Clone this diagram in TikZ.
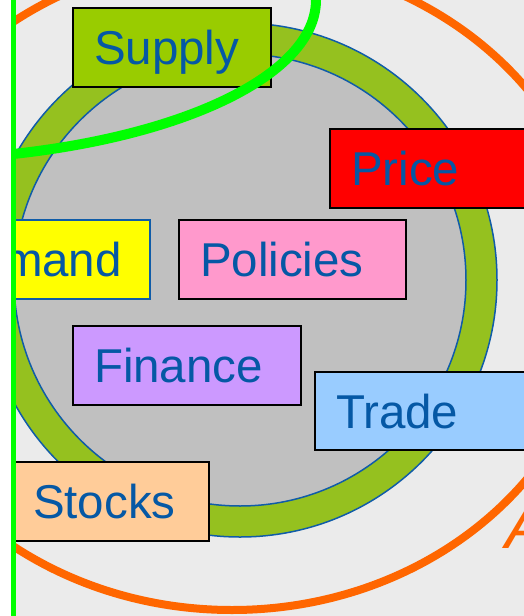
\documentclass[tikz,border=0pt]{standalone}
\usepackage{fontspec}
\setmainfont{Liberation Sans}

\definecolor{bggray}{RGB}{235,235,235}
\definecolor{ringolive}{RGB}{149,193,31}
\definecolor{ringblue}{RGB}{16,92,168}
\definecolor{innergray}{RGB}{192,192,192}
\definecolor{textblue}{RGB}{5,88,165}
\definecolor{arcorange}{RGB}{255,102,0}
\definecolor{brightgreen}{RGB}{0,255,0}
\definecolor{supplygreen}{RGB}{153,204,0}
\definecolor{pricered}{RGB}{255,0,0}
\definecolor{demandyellow}{RGB}{255,255,0}
\definecolor{policypink}{RGB}{255,153,204}
\definecolor{financelilac}{RGB}{204,153,255}
\definecolor{tradeblue}{RGB}{153,204,255}
\definecolor{stockpeach}{RGB}{255,204,153}

\begin{document}
\begin{tikzpicture}[x=1pt, y=1pt,
    labelbox/.style={draw=black, line width=1.8pt, anchor=north west,
        inner xsep=21pt, inner ysep=0pt, outer sep=0pt,
        minimum height=79pt, text height=34pt, text depth=0pt,
        align=left, text=textblue, font=\fontsize{47.5}{50}\selectfont},
    ringline/.style={draw=ringblue, line width=1.5pt},
    orangeline/.style={draw=arcorange, line width=8pt},
    greenline/.style={draw=brightgreen, line width=10pt}]

    % --- Frame ---
    \useasboundingbox (0,0) rectangle (524,-616);
    \clip (0,0) rectangle (524,-616);
    \fill[white] (0,0) rectangle (524,-616);

    % --- Define Coordinates ---
    % Centre of the ring
    \coordinate (O) at (240,-280);
    \def\Router{257}
    \def\Rinner{226}
    % Centre of the orange ellipse
    \coordinate (E) at (232,-284);
    % Centre of the green ellipse (outside the picture, top left)
    \coordinate (G) at (-100,0);
    % Top and foot of the green border line
    \coordinate (L1) at (13,0);
    \coordinate (L2) at (13,-616);

    \begin{scope}
        % everything right of the green line
        \clip (13,0) rectangle (524,-616);
        \fill[bggray] (13,0) rectangle (524,-616);

        % --- Orange ellipse ---
        \draw[orangeline] (E) ellipse [x radius=368, y radius=326];

        % --- Ring ---
        \filldraw[ringline, fill=ringolive] (O) circle (\Router);
        \filldraw[ringline, fill=innergray] (O) circle (\Rinner);

        % --- Boxes ---
        \node[labelbox, fill=supplygreen, text width=156pt] (supply) at (73,-8) {Supply};
        \node[labelbox, fill=pricered, text width=178pt] (price) at (330,-129) {Price};
        \node[labelbox, fill=demandyellow, draw=ringblue, line width=1.2pt,
            text width=126pt] (demand) at (-18,-220) {mand};
        \node[labelbox, fill=policypink, text width=185pt] (policies) at (179,-220) {Policies};
        \node[labelbox, fill=financelilac, text width=186pt] (finance) at (73,-326) {Finance};
        \node[labelbox, fill=tradeblue, text width=178pt, minimum height=78pt] (trade) at (315,-372) {Trade};
        \node[labelbox, fill=stockpeach, text width=155pt] (stocks) at (12,-462) {Stocks};

        % --- Green ellipse ---
        \draw[greenline] (G) ellipse [x radius=416, y radius=160];

        % --- Orange letter ---
        \node[anchor=base west, inner sep=0pt, text=arcorange,
            font=\fontsize{63}{63}\selectfont\itshape] (atext) at (505,-548) {A};
    \end{scope}

    % --- Green border line ---
    \draw[brightgreen, line width=5pt] (L1) -- (L2);

\end{tikzpicture}
\end{document}
